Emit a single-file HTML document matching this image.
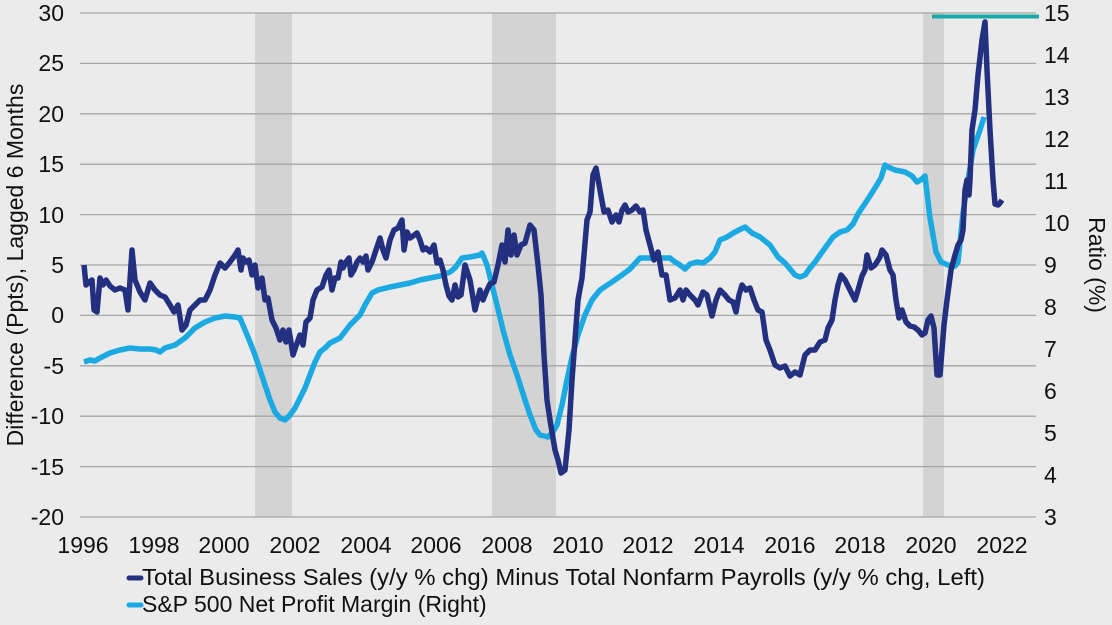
<!DOCTYPE html>
<html><head><meta charset="utf-8"><style>
html,body{margin:0;padding:0;background:#ebebeb;}
svg{display:block;font-family:"Liberation Sans",Arial,sans-serif;}
</style></head><body>
<svg width="1112" height="625" viewBox="0 0 1112 625" xmlns="http://www.w3.org/2000/svg">
<rect width="1112" height="625" fill="#ebebeb"/>
<rect x="255" y="13" width="37" height="504" fill="#d3d3d3"/>
<rect x="492" y="13" width="64" height="504" fill="#d3d3d3"/>
<rect x="923" y="13" width="21" height="504" fill="#d3d3d3"/>
<g stroke="#a6a6a6" stroke-width="1.3">
<line x1="80" x2="1036" y1="13" y2="13"/><line x1="80" x2="1036" y1="63.4" y2="63.4"/>
<line x1="80" x2="1036" y1="113.8" y2="113.8"/><line x1="80" x2="1036" y1="164.2" y2="164.2"/>
<line x1="80" x2="1036" y1="214.6" y2="214.6"/><line x1="80" x2="1036" y1="265" y2="265"/>
<line x1="80" x2="1036" y1="315.4" y2="315.4"/><line x1="80" x2="1036" y1="365.8" y2="365.8"/>
<line x1="80" x2="1036" y1="416.2" y2="416.2"/><line x1="80" x2="1036" y1="466.6" y2="466.6"/>
<line x1="80" x2="1036" y1="517" y2="517"/>
</g>
<g font-size="23" fill="#111" text-anchor="end">
<text x="64" y="21">30</text><text x="64" y="71">25</text><text x="64" y="122">20</text>
<text x="64" y="172">15</text><text x="64" y="223">10</text><text x="64" y="273">5</text>
<text x="64" y="323">0</text><text x="64" y="374">-5</text><text x="64" y="424">-10</text>
<text x="64" y="475">-15</text><text x="64" y="525">-20</text>
</g>
<g font-size="23" fill="#111">
<text x="1044" y="21">15</text><text x="1044" y="63">14</text><text x="1044" y="105">13</text>
<text x="1044" y="147">12</text><text x="1044" y="189">11</text><text x="1044" y="231">10</text>
<text x="1044" y="273">9</text><text x="1044" y="315">8</text><text x="1044" y="357">7</text>
<text x="1044" y="399">6</text><text x="1044" y="441">5</text><text x="1044" y="483">4</text>
<text x="1044" y="525">3</text>
</g>
<g font-size="23" fill="#111" text-anchor="middle">
<text x="83" y="553">1996</text><text x="154" y="553">1998</text><text x="224" y="553">2000</text>
<text x="295" y="553">2002</text><text x="366" y="553">2004</text><text x="436" y="553">2006</text>
<text x="507" y="553">2008</text><text x="578" y="553">2010</text><text x="648" y="553">2012</text>
<text x="719" y="553">2014</text><text x="790" y="553">2016</text><text x="860" y="553">2018</text>
<text x="931" y="553">2020</text><text x="1002" y="553">2022</text>
</g>
<text font-size="23" fill="#111" text-anchor="middle" transform="translate(23,265) rotate(-90)">Difference (Ppts), Lagged 6 Months</text>
<text font-size="23" fill="#111" text-anchor="middle" transform="translate(1089,265) rotate(90)">Ratio (%)</text>
<line x1="932" x2="1039" y1="16.5" y2="16.5" stroke="#1aa9a6" stroke-width="4"/>
<polyline fill="none" stroke="#1aa9e0" stroke-width="5.5" stroke-linejoin="round" points="84,362 90,360 95,361 100,358 110,353 120,350 130,348 140,349 150,349 156,350 160,352 165,348 175,345 185,338 195,328 205,322 215,318 225,316 235,317 240,318 245,330 250,342 255,355 260,370 265,385 270,400 275,412 280,418 285,420 290,415 295,408 300,398 305,388 310,375 315,362 320,352 325,348 330,343 340,338 350,325 360,315 365,305 372,293 378,290 390,287 400,285 410,283 420,280 430,278 440,276 450,272 455,268 462,258 470,257 480,255 482,253 487,265 492,285 497,305 503,330 510,355 517,375 525,400 530,415 536,430 540,435 548,437 553,432 557,425 562,405 567,380 572,357 578,335 585,315 592,300 600,290 612,282 622,275 630,269 640,258 650,258 660,258 670,258 675,262 680,265 685,269 690,264 697,262 703,263 710,258 715,252 720,240 727,237 735,232 745,227 752,233 760,237 770,245 778,257 785,263 795,275 800,277 805,275 810,268 815,262 825,248 833,237 840,232 847,230 853,224 858,214 866,202 875,188 881,178 885,165 888,167 895,170 905,172 912,176 917,182 922,179 925,176 930,218 936,252 941,262 948,265 955,266 958,262 963,213 968,180 973,150 980,130 984,117"/>
<polyline fill="none" stroke="#23307f" stroke-width="5.5" stroke-linejoin="round" points="84,265 86,285 89,282 92,280 94,310 97,312 100,278 103,285 106,280 110,286 115,290 120,288 125,290 128,310 132,250 135,280 140,292 145,300 150,283 155,290 160,295 165,297 170,305 174,312 178,305 182,330 186,325 190,310 195,305 200,300 205,300 210,290 215,275 220,263 225,268 230,262 235,255 238,250 241,270 243,258 246,262 249,260 252,275 255,265 258,288 262,278 265,300 268,298 272,320 276,328 280,340 283,330 286,342 289,330 293,355 296,346 300,335 303,345 306,322 310,318 313,300 317,290 322,287 326,275 329,270 332,290 335,278 338,278 341,262 343,268 346,262 349,258 351,275 354,270 357,262 360,258 363,262 366,256 368,270 372,262 376,250 380,238 383,250 386,258 390,240 394,230 398,228 402,220 404,250 407,232 410,238 413,236 417,233 420,240 423,250 426,248 430,252 434,245 437,263 440,260 443,270 446,285 449,296 452,300 455,285 458,297 461,295 465,265 470,280 475,310 480,290 483,300 487,290 490,284 494,282 498,265 502,245 505,262 508,230 511,255 514,235 517,255 521,245 525,243 530,225 534,230 538,265 541,295 544,355 547,400 550,420 555,450 558,460 561,473 565,470 569,430 572,380 575,340 578,300 582,278 587,220 590,212 593,175 596,168 600,190 604,212 608,210 612,222 616,215 619,222 622,210 625,205 628,212 632,210 636,206 640,212 643,210 646,230 650,245 654,260 658,252 662,275 666,275 670,300 675,298 680,290 683,300 686,290 690,295 695,300 698,305 703,292 707,295 712,316 716,300 720,290 725,295 729,300 733,302 736,312 739,295 742,285 746,290 750,288 754,300 758,310 762,312 766,340 770,350 775,365 780,368 785,366 790,376 795,372 800,375 805,355 810,350 815,350 820,342 825,340 828,328 832,320 835,300 838,285 841,275 845,280 850,290 855,300 858,290 862,276 865,270 867,255 871,268 875,265 880,257 882,250 886,255 890,270 893,275 896,300 899,318 902,310 906,322 910,326 914,327 918,330 922,335 925,333 928,320 931,316 934,328 937,375 940,375 944,325 947,300 951,270 955,255 958,245 961,240 963,230 965,190 967,180 969,195 970,180 972,130 975,110 978,75 982,40 985,22 987,70 990,130 993,180 995,204 998,205 1000,203 1002,200"/>
<line x1="129" x2="141" y1="578" y2="578" stroke="#23307f" stroke-width="5" stroke-linecap="round"/>
<text x="142" y="585" font-size="23" fill="#111" textLength="843" lengthAdjust="spacingAndGlyphs">Total Business Sales (y/y % chg) Minus Total Nonfarm Payrolls (y/y % chg, Left)</text>
<line x1="129" x2="141" y1="605" y2="605" stroke="#1aa9e0" stroke-width="5" stroke-linecap="round"/>
<text x="142" y="612" font-size="23" fill="#111">S&amp;P 500 Net Profit Margin (Right)</text>
</svg>
</body></html>
